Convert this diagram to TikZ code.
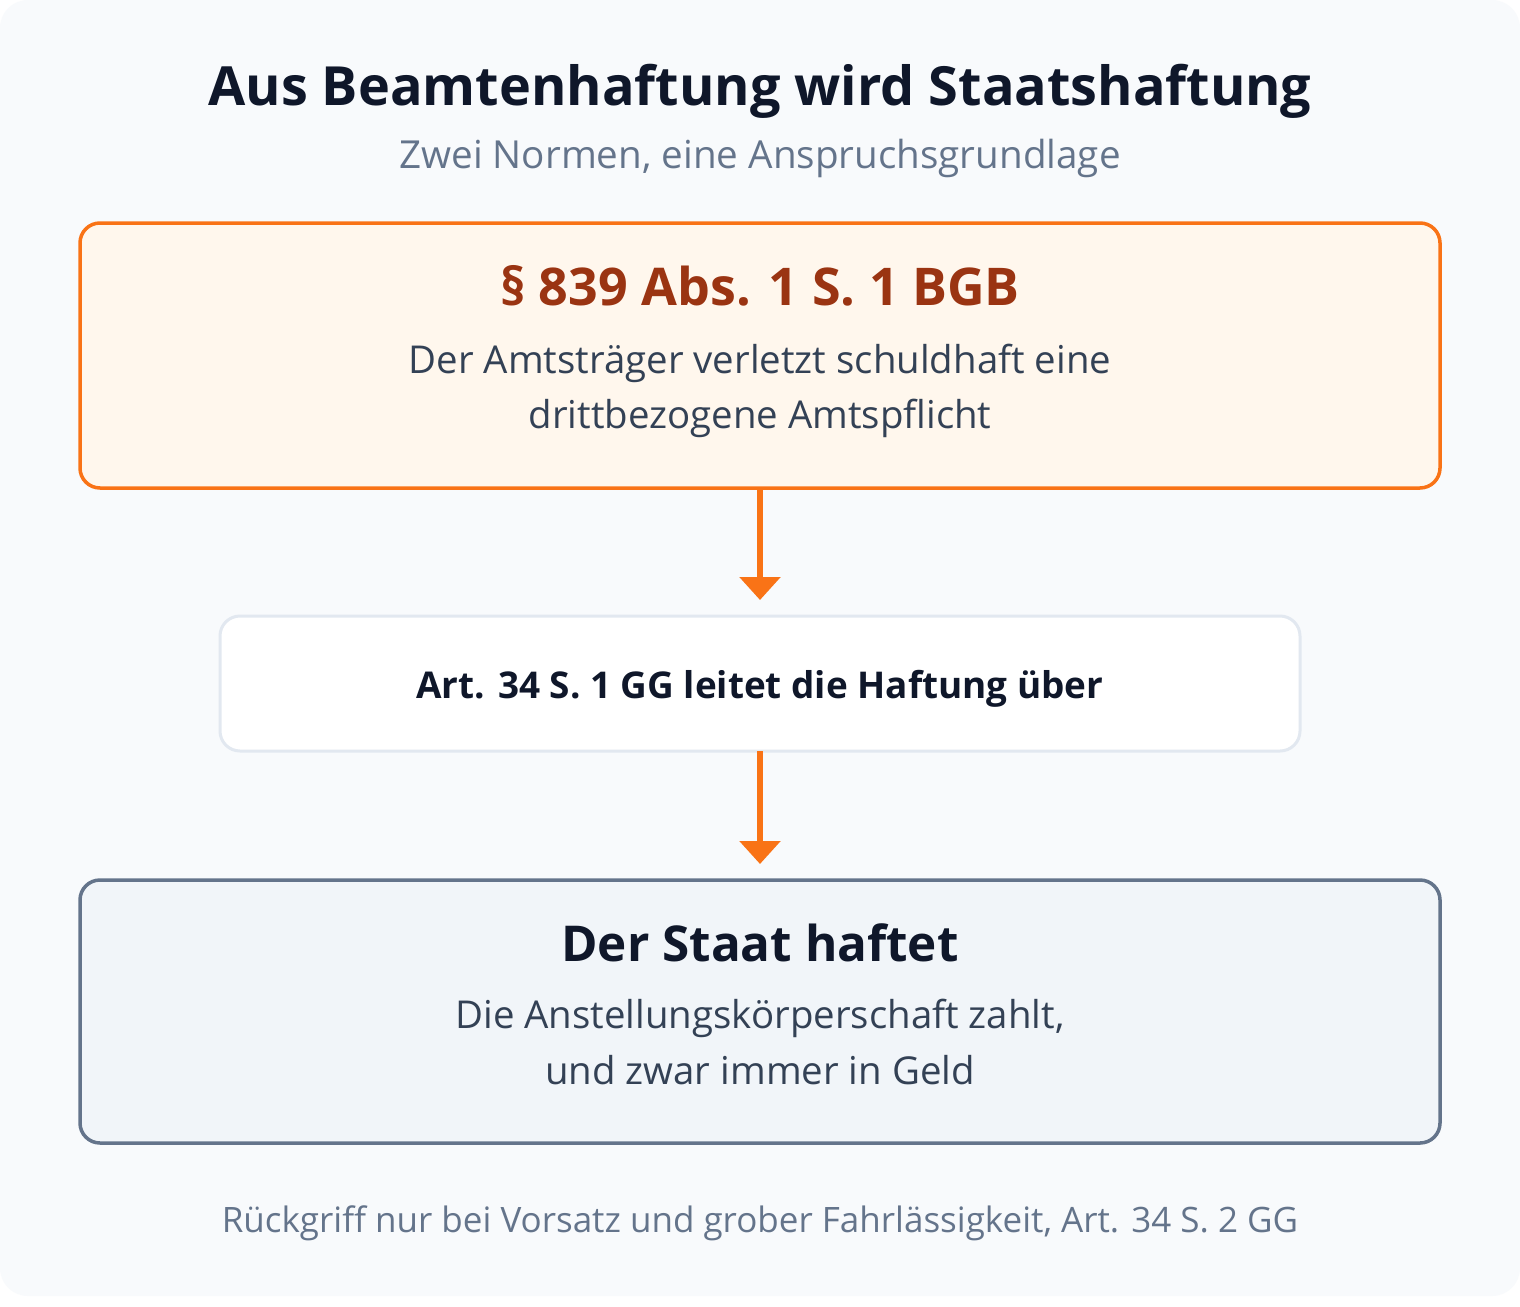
\documentclass[tikz,border=0pt]{standalone}
\usepackage{fontspec}
\IfFontExistsTF{Open Sans Bold}{\setmainfont{Open Sans}}{\setmainfont{TeX Gyre Heros}}
\usetikzlibrary{arrows.meta}
\definecolor{bgc}{HTML}{F8FAFC}
\definecolor{orng}{HTML}{F97316}
\definecolor{topfill}{HTML}{FFF7ED}
\definecolor{paracol}{HTML}{9A3412}
\definecolor{bodycol}{HTML}{334155}
\definecolor{titlecol}{HTML}{0F172A}
\definecolor{greycol}{HTML}{64748B}
\definecolor{midstroke}{HTML}{E2E8F0}
\definecolor{botfill}{HTML}{F1F5F9}
\tikzset{
  box/.style={rectangle, rounded corners=20pt, inner sep=0pt, outer sep=0pt, minimum width=1360pt},
  topbox/.style={box, draw=orng, fill=topfill, line width=3.5pt, minimum height=265pt},
  midbox/.style={box, draw=midstroke, fill=white, line width=3pt, minimum width=1080pt, minimum height=135pt},
  botbox/.style={box, draw=greycol, fill=botfill, line width=3.5pt, minimum height=263pt},
  txt/.style={anchor=base, inner sep=0pt, outer sep=0pt},
  titletxt/.style={txt, text=titlecol, font=\bfseries\fontsize{54}{60}\selectfont},
  subtxt/.style={txt, text=greycol, font=\fontsize{38.6}{42}\selectfont},
  headtxt/.style={txt, text=paracol, font=\bfseries\fontsize{52}{56}\selectfont},
  bodytxt/.style={txt, text=bodycol, font=\fontsize{38.4}{42}\selectfont},
  midtxt/.style={txt, text=titlecol, font=\bfseries\fontsize{36.9}{40}\selectfont},
  stattxt/.style={txt, text=titlecol, font=\bfseries\fontsize{49.4}{54}\selectfont},
  foottxt/.style={txt, text=greycol, font=\fontsize{35}{38}\selectfont},
  flow/.style={draw=orng, line width=6pt, -{Triangle[width=40pt,length=23pt]}, shorten >=16pt},
}
\begin{document}
\begin{tikzpicture}[x=1pt,y=-1pt]
\useasboundingbox (0,0) rectangle (1520,1306);
\fill[white] (0,0) rectangle (1520,1306);
\fill[bgc, rounded corners=28pt] (0,0) rectangle (1520,1296);

\node[titletxt] (title) at (760,105) {Aus Beamtenhaftung wird Staatshaftung};
\node[subtxt] (sub) at (760,168) {Zwei Normen, eine Anspruchsgrundlage};

\node[topbox] (top) at (760,355.5) {};
\node[headtxt] (head) at (760,305) {§ 839 Abs. 1 S. 1 BGB};
\node[bodytxt] (b1) at (760,373) {Der Amtsträger verletzt schuldhaft eine};
\node[bodytxt] (b2) at (760,428) {drittbezogene Amtspflicht};

\node[midbox] (mid) at (760,683.5) {};
\node[midtxt] (midt) at (760,698) {Art. 34 S. 1 GG leitet die Haftung über};

\node[botbox] (bot) at (760,1011.5) {};
\node[stattxt] (stat) at (760,961) {Der Staat haftet};
\node[bodytxt] (c1) at (760,1028) {Die Anstellungskörperschaft zahlt,};
\node[bodytxt] (c2) at (760,1084) {und zwar immer in Geld};

\node[foottxt] (foot) at (760,1232) {Rückgriff nur bei Vorsatz und grober Fahrlässigkeit, Art. 34 S. 2 GG};

\draw[flow] (top.south) -- (mid.north);
\draw[flow] (mid.south) -- (bot.north);
\end{tikzpicture}
\end{document}
